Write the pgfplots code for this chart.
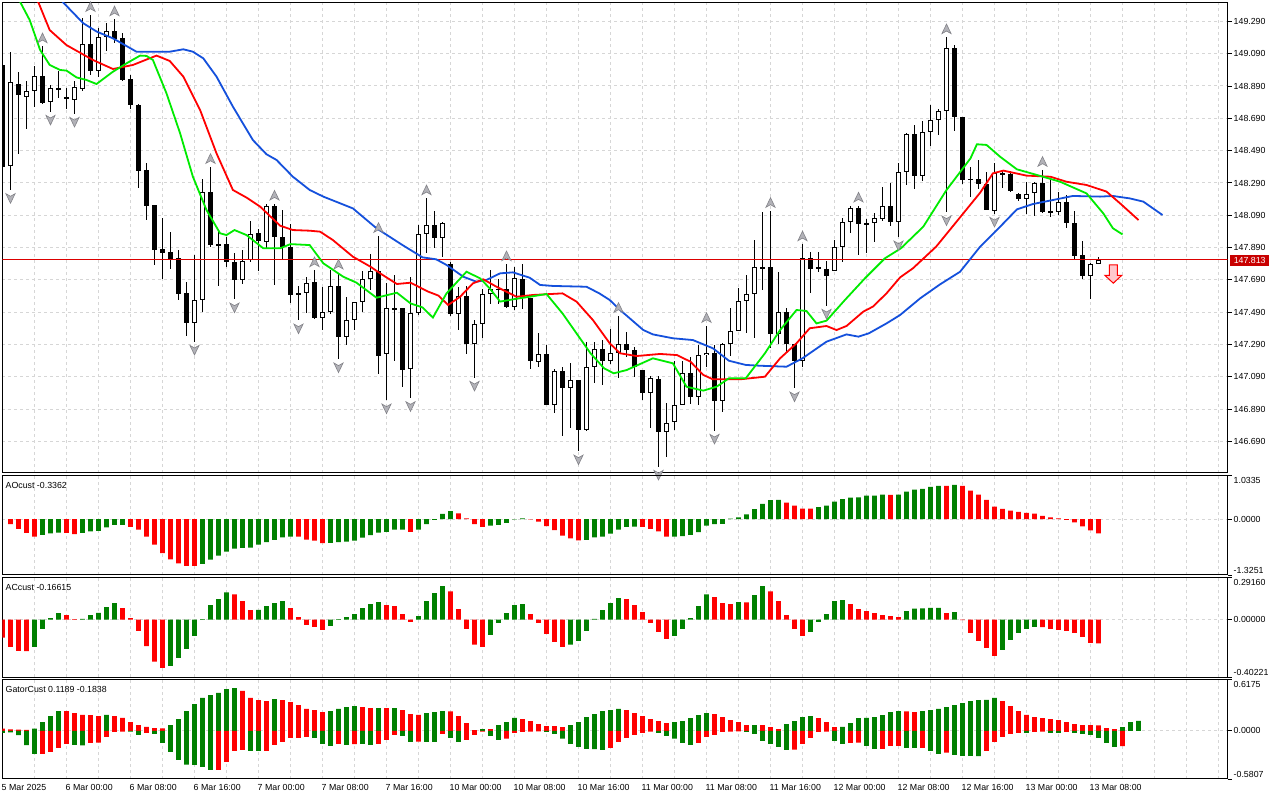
\documentclass[border=0pt]{standalone}
\usepackage{pgfplots}
\pgfplotsset{compat=1.18}
\usepackage{pgfplotstable}
\usepackage{fontspec}
\setmainfont{Liberation Sans}
\definecolor{mtblue}{RGB}{20,80,220}
\definecolor{mtred}{RGB}{255,0,0}
\definecolor{mtlime}{RGB}{0,235,0}
\definecolor{hgreen}{RGB}{0,128,0}
\definecolor{hred}{RGB}{255,0,0}
\definecolor{pricered}{RGB}{220,0,0}
\definecolor{boxred}{RGB}{200,0,0}
\definecolor{gridc}{RGB}{214,214,214}
\definecolor{fracfill}{RGB}{178,178,184}
\definecolor{fracdraw}{RGB}{130,130,136}
\definecolor{arrowfill}{RGB}{255,200,205}
\newcommand{\tfont}{\fontsize{8.8}{10}\selectfont}
\newcommand{\yl}[2]{\smash{\rule[-0.4pt]{4.5pt}{0.8pt}\hspace{1.3pt}\raisebox{#1}{#2}}}
\pgfdeclareplotmark{fup}{%
 \pgfpathmoveto{\pgfpoint{0pt}{5pt}}\pgfpathlineto{\pgfpoint{4.6pt}{-4.6pt}}%
 \pgfpathlineto{\pgfpoint{0pt}{-2pt}}\pgfpathlineto{\pgfpoint{-4.6pt}{-4.6pt}}%
 \pgfpathclose\pgfusepath{fill,stroke}}
\pgfdeclareplotmark{fdown}{%
 \pgfpathmoveto{\pgfpoint{0pt}{-5pt}}\pgfpathlineto{\pgfpoint{4.6pt}{4.6pt}}%
 \pgfpathlineto{\pgfpoint{0pt}{2pt}}\pgfpathlineto{\pgfpoint{-4.6pt}{4.6pt}}%
 \pgfpathclose\pgfusepath{fill,stroke}}
\pgfdeclareplotmark{sellarrow}{%
 \pgfpathmoveto{\pgfpoint{-4pt}{9.2pt}}\pgfpathlineto{\pgfpoint{4pt}{9.2pt}}%
 \pgfpathlineto{\pgfpoint{4pt}{-1.5pt}}\pgfpathlineto{\pgfpoint{8.3pt}{-1.5pt}}%
 \pgfpathlineto{\pgfpoint{0pt}{-9.2pt}}\pgfpathlineto{\pgfpoint{-8.3pt}{-1.5pt}}%
 \pgfpathlineto{\pgfpoint{-4pt}{-1.5pt}}\pgfpathclose\pgfusepath{fill,stroke}}
\pgfplotsset{
 mtpanel/.style={
  anchor=south west, scale only axis, width=1225.4pt,
  xmin=-0.025, xmax=153.15,
  xtick={0,8,...,152}, minor x tick num=1,
  major tick length=0pt, minor tick length=0pt,
  grid=both,
  major grid style={draw=gridc, dash pattern=on 3pt off 3pt, line width=1pt},
  minor grid style={draw=gridc, dash pattern=on 3pt off 3pt, line width=1pt},
  axis line style={black, line width=1pt},
  ytick pos=right, yticklabel pos=right,
  yticklabel style={anchor=west, inner sep=0pt, font=\tfont},
  clip mode=individual,
 },
 hbar/.style={ybar, bar width=4.6pt, bar shift=0pt, draw=none, fill=#1},
}
\pgfplotstableread{
i o h l c
0 149.018 149.030 148.380 148.386
1 148.394 149.098 148.246 148.912
2 148.900 148.976 148.471 148.832
3 148.820 148.923 148.626 148.859
4 148.859 149.014 148.762 148.950
5 148.950 149.135 148.776 148.787
6 148.791 148.896 148.731 148.875
7 148.875 148.985 148.818 148.869
8 148.822 148.877 148.749 148.807
9 148.803 148.923 148.718 148.881
10 148.873 149.308 148.857 149.150
11 149.150 149.329 148.958 148.985
12 148.985 149.251 148.943 149.191
13 149.191 149.280 149.108 149.228
14 149.228 149.302 149.154 149.183
15 149.187 149.216 148.923 148.927
16 148.933 148.956 148.745 148.774
17 148.772 148.778 148.260 148.366
18 148.370 148.413 148.062 148.149
19 148.153 148.153 147.784 147.877
20 147.881 148.071 147.697 147.858
21 147.860 147.986 147.759 147.821
22 147.825 147.877 147.565 147.604
23 147.608 147.676 147.344 147.420
24 147.420 147.843 147.307 147.563
25 147.563 148.314 147.489 148.231
26 148.233 148.388 147.895 147.905
27 147.909 147.984 147.649 147.905
28 147.909 147.957 147.771 147.798
29 147.800 147.854 147.569 147.687
30 147.687 147.874 147.662 147.804
31 147.815 148.054 147.800 147.971
32 147.980 148.006 147.742 147.932
33 147.922 148.157 147.879 148.145
34 148.145 148.161 147.656 147.953
35 147.953 148.120 147.817 147.895
36 147.895 148.035 147.548 147.594
37 147.594 147.652 147.439 147.606
38 147.606 147.707 147.482 147.668
39 147.676 147.749 147.447 147.451
40 147.451 147.647 147.379 147.489
41 147.489 147.751 147.480 147.652
42 147.652 147.734 147.198 147.334
43 147.334 147.585 147.284 147.439
44 147.439 147.553 147.379 147.553
45 147.553 147.744 147.493 147.693
46 147.693 147.848 147.627 147.742
47 147.744 147.961 147.109 147.220
48 147.229 147.670 146.944 147.513
49 147.509 147.720 147.189 147.513
50 147.513 147.513 147.024 147.129
51 147.136 147.707 146.958 147.482
52 147.482 148.027 147.472 147.971
53 147.971 148.194 147.854 148.027
54 148.027 148.116 147.885 147.951
55 147.951 148.048 147.833 148.040
56 147.790 147.798 147.466 147.476
57 147.476 147.647 147.379 147.590
58 147.590 147.652 147.229 147.290
59 147.290 147.441 147.084 147.414
60 147.414 147.631 147.328 147.602
61 147.602 147.751 147.540 147.635
62 147.635 147.697 147.540 147.631
63 147.635 147.786 147.513 147.519
64 147.519 147.771 147.503 147.701
65 147.693 147.786 147.509 147.579
66 147.579 147.579 147.138 147.185
67 147.179 147.363 147.148 147.229
68 147.229 147.284 146.913 146.917
69 146.917 147.140 146.863 147.127
70 147.127 147.150 146.721 147.018
71 147.018 147.175 146.775 147.070
72 147.070 147.070 146.628 146.762
73 146.762 147.307 146.756 147.148
74 147.148 147.307 147.049 147.262
75 147.262 147.319 147.039 147.185
76 147.185 147.385 147.169 147.235
77 147.235 147.466 147.080 147.290
78 147.290 147.365 147.214 147.253
79 147.253 147.276 147.086 147.150
80 147.131 147.131 146.946 146.987
81 146.987 147.094 146.775 147.080
82 147.076 147.094 146.533 146.746
83 146.746 146.925 146.591 146.801
84 146.808 147.185 146.760 146.913
85 146.917 147.185 146.917 147.111
86 147.111 147.212 146.921 146.967
87 146.967 147.284 146.917 147.222
88 147.222 147.404 147.152 147.235
89 147.235 147.284 146.756 146.937
90 146.937 147.301 146.874 147.290
91 147.290 147.513 147.220 147.371
92 147.371 147.639 147.371 147.557
93 147.557 147.717 147.359 147.602
94 147.602 147.936 147.328 147.767
95 147.763 148.110 147.627 147.767
96 147.767 148.116 147.268 147.352
97 147.352 147.736 147.290 147.489
98 147.489 147.513 147.245 147.290
99 147.290 147.290 147.018 147.189
100 147.189 147.909 147.152 147.823
101 147.823 147.860 147.610 147.755
102 147.755 147.860 147.736 147.767
103 147.755 147.808 147.530 147.711
104 147.742 147.936 147.742 147.891
105 147.891 148.071 147.802 148.046
106 148.046 148.149 147.978 148.132
107 148.132 148.149 147.841 148.034
108 148.040 148.064 147.854 148.034
109 148.040 148.101 147.922 148.071
110 148.064 148.262 148.054 148.145
111 148.145 148.287 148.020 148.046
112 148.046 148.411 147.953 148.355
113 148.355 148.597 148.275 148.590
114 148.590 148.646 148.254 148.335
115 148.335 148.675 148.304 148.603
116 148.603 148.772 148.518 148.677
117 148.677 148.747 148.588 148.733
118 148.733 149.191 148.108 149.123
119 149.123 149.143 148.613 148.696
120 148.696 148.696 148.285 148.310
121 148.316 148.390 148.205 148.310
122 148.316 148.430 148.252 148.281
123 148.281 148.355 148.120 148.120
124 148.118 148.411 148.099 148.349
125 148.349 148.364 148.260 148.343
126 148.345 148.364 148.231 148.240
127 148.219 148.229 148.176 148.192
128 148.192 148.293 148.095 148.219
129 148.225 148.297 148.087 148.289
130 148.289 148.370 148.101 148.108
131 148.108 148.318 148.077 148.114
132 148.108 148.231 148.093 148.170
133 148.170 148.217 148.013 148.040
134 148.040 148.116 147.815 147.839
135 147.841 147.930 147.693 147.715
136 147.715 147.792 147.569 147.786
137 147.786 147.831 147.786 147.813
}\candletab
\pgfplotstableread{
i v c
1 -0.121 0
2 -0.234 0
3 -0.329 0
4 -0.415 0
5 -0.372 1
6 -0.337 1
7 -0.320 1
8 -0.329 0
9 -0.355 0
10 -0.329 1
11 -0.294 1
12 -0.277 1
13 -0.199 1
14 -0.138 1
15 -0.135 1
16 -0.182 0
17 -0.251 0
18 -0.415 0
19 -0.606 0
20 -0.805 0
21 -0.952 0
22 -1.047 0
23 -1.107 0
24 -1.110 0
25 -1.064 1
26 -0.960 1
27 -0.865 1
28 -0.770 1
29 -0.701 1
30 -0.683 1
31 -0.675 1
32 -0.606 1
33 -0.545 1
34 -0.493 1
35 -0.433 1
36 -0.415 1
37 -0.418 0
38 -0.484 0
39 -0.510 0
40 -0.571 0
41 -0.562 1
42 -0.545 1
43 -0.536 1
44 -0.510 1
45 -0.441 1
46 -0.381 1
47 -0.320 1
48 -0.303 1
49 -0.251 1
50 -0.249 1
51 -0.303 0
52 -0.251 1
53 -0.121 1
54 -0.017 1
55 0.121 1
56 0.190 1
57 0.138 0
58 0.017 0
59 -0.121 0
60 -0.182 0
61 -0.156 1
62 -0.138 1
63 -0.087 1
64 -0.009 1
65 0.017 1
66 -0.009 0
67 -0.061 0
68 -0.164 0
69 -0.260 0
70 -0.389 0
71 -0.458 0
72 -0.502 0
73 -0.493 1
74 -0.433 1
75 -0.415 1
76 -0.346 1
77 -0.251 1
78 -0.182 1
79 -0.180 1
80 -0.184 0
81 -0.234 0
82 -0.294 0
83 -0.418 0
84 -0.415 1
85 -0.405 1
86 -0.372 1
87 -0.311 1
88 -0.156 1
89 -0.121 1
90 -0.112 1
91 0.009 1
92 0.043 1
93 0.112 1
94 0.234 1
95 0.363 1
96 0.450 1
97 0.455 1
98 0.389 0
99 0.320 0
100 0.251 0
101 0.248 0
102 0.285 1
103 0.320 1
104 0.415 1
105 0.476 1
106 0.510 1
107 0.514 1
108 0.554 1
109 0.557 1
110 0.580 1
111 0.577 0
112 0.580 1
113 0.649 1
114 0.701 1
115 0.718 1
116 0.761 1
117 0.787 1
118 0.785 0
119 0.813 1
120 0.787 0
121 0.675 0
122 0.580 0
123 0.458 0
124 0.294 0
125 0.242 0
126 0.199 0
127 0.173 0
128 0.147 0
129 0.130 0
130 0.078 0
131 0.043 0
132 0.017 0
133 -0.017 0
134 -0.078 0
135 -0.173 0
136 -0.270 0
137 -0.336 0
}\aotab
\pgfplotstableread{
i v c
0 -0.125 0
1 -0.190 0
2 -0.217 0
3 -0.219 0
4 -0.190 1
5 -0.065 1
6 0.010 1
7 0.044 1
8 0.030 0
9 0.003 0
10 0.005 1
11 0.030 1
12 0.046 1
13 0.086 1
14 0.113 1
15 0.079 0
16 0.010 0
17 -0.079 0
18 -0.185 0
19 -0.292 0
20 -0.336 0
21 -0.322 1
22 -0.266 1
23 -0.203 1
24 -0.113 1
25 0.002 1
26 0.100 1
27 0.141 1
28 0.189 1
29 0.175 0
30 0.127 0
31 0.065 0
32 0.067 1
33 0.093 1
34 0.113 1
35 0.127 1
36 0.079 0
37 0.017 0
38 -0.037 0
39 -0.051 0
40 -0.072 0
41 -0.044 1
42 0.002 1
43 0.017 1
44 0.037 1
45 0.079 1
46 0.107 1
47 0.120 1
48 0.100 0
49 0.093 0
50 0.037 0
51 -0.017 0
52 0.024 1
53 0.127 1
54 0.183 1
55 0.231 1
56 0.196 0
57 0.072 0
58 -0.065 0
59 -0.175 0
60 -0.190 0
61 -0.107 1
62 -0.024 1
63 0.044 1
64 0.100 1
65 0.107 1
66 0.037 0
67 -0.024 0
68 -0.100 0
69 -0.155 0
70 -0.190 0
71 -0.175 1
72 -0.148 1
73 -0.079 1
74 0.004 1
75 0.065 1
76 0.113 1
77 0.148 1
78 0.141 0
79 0.100 0
80 0.051 0
81 -0.024 0
82 -0.086 0
83 -0.134 0
84 -0.113 1
85 -0.065 1
86 0.010 1
87 0.093 1
88 0.175 1
89 0.155 0
90 0.113 0
91 0.107 0
92 0.121 1
93 0.119 0
94 0.169 1
95 0.231 1
96 0.196 0
97 0.127 0
98 0.030 0
99 -0.065 0
100 -0.113 0
101 -0.086 1
102 -0.017 1
103 0.037 1
104 0.127 1
105 0.134 1
106 0.107 0
107 0.072 0
108 0.058 0
109 0.044 0
110 0.030 0
111 0.024 0
112 0.017 0
113 0.058 1
114 0.076 1
115 0.078 1
116 0.080 1
117 0.081 1
118 0.044 0
119 0.051 1
120 -0.004 0
121 -0.093 0
122 -0.148 0
123 -0.196 0
124 -0.252 0
125 -0.210 1
126 -0.141 1
127 -0.093 1
128 -0.065 1
129 -0.051 1
130 -0.053 0
131 -0.065 0
132 -0.072 0
133 -0.079 0
134 -0.093 0
135 -0.120 0
136 -0.162 0
137 -0.166 0
}\actab
\pgfplotstableread{
i u uc d dc
0 0.027 0 -0.025 1
1 0.018 0 -0.018 1
2 0.014 0 -0.053 1
3 0.010 0 -0.173 1
4 0.025 1 -0.277 1
5 0.105 1 -0.277 0
6 0.177 1 -0.255 0
7 0.236 1 -0.205 0
8 0.236 0 -0.157 0
9 0.214 0 -0.169 1
10 0.191 0 -0.175 1
11 0.189 0 -0.145 0
12 0.177 0 -0.143 0
13 0.191 1 -0.073 0
14 0.177 0 -0.012 0
15 0.155 0 -0.009 0
16 0.105 0 -0.010 1
17 0.068 0 -0.048 1
18 0.048 0 -0.025 0
19 0.032 0 -0.036 1
20 0.030 0 -0.145 1
21 0.068 1 -0.255 1
22 0.141 1 -0.350 1
23 0.236 1 -0.409 1
24 0.322 1 -0.411 1
25 0.395 1 -0.435 1
26 0.430 1 -0.471 1
27 0.455 1 -0.470 0
28 0.503 1 -0.373 0
29 0.515 1 -0.241 0
30 0.479 0 -0.229 0
31 0.395 0 -0.241 1
32 0.370 0 -0.243 1
33 0.358 0 -0.241 0
34 0.382 1 -0.169 0
35 0.370 0 -0.133 0
36 0.345 0 -0.085 0
37 0.309 0 -0.084 0
38 0.264 0 -0.073 0
39 0.249 0 -0.085 1
40 0.225 0 -0.157 1
41 0.236 1 -0.182 1
42 0.264 1 -0.157 0
43 0.285 1 -0.169 1
44 0.297 1 -0.160 0
45 0.285 0 -0.157 1
46 0.273 0 -0.169 1
47 0.274 1 -0.157 0
48 0.272 0 -0.109 0
49 0.273 1 -0.048 0
50 0.249 0 -0.060 1
51 0.200 0 -0.133 1
52 0.191 0 -0.132 0
53 0.214 1 -0.133 1
54 0.225 1 -0.134 1
55 0.236 1 -0.036 0
56 0.235 0 -0.085 1
57 0.177 0 -0.133 1
58 0.091 0 -0.109 0
59 0.009 0 -0.048 0
60 0.020 1 -0.009 0
61 0.019 0 -0.060 1
62 0.068 1 -0.109 1
63 0.105 1 -0.096 0
64 0.155 1 -0.025 0
65 0.141 0 -0.012 0
66 0.116 0 -0.009 0
67 0.080 0 -0.007 0
68 0.056 0 -0.012 1
69 0.055 0 -0.036 1
70 0.045 0 -0.096 1
71 0.068 1 -0.157 1
72 0.105 1 -0.193 1
73 0.164 1 -0.218 1
74 0.200 1 -0.220 1
75 0.236 1 -0.229 1
76 0.249 1 -0.205 0
77 0.264 1 -0.133 0
78 0.249 0 -0.085 0
79 0.214 0 -0.048 0
80 0.177 0 -0.025 0
81 0.141 0 -0.009 0
82 0.116 0 -0.025 1
83 0.091 0 -0.060 1
84 0.105 1 -0.096 1
85 0.116 1 -0.145 1
86 0.153 1 -0.169 1
87 0.189 1 -0.145 0
88 0.214 1 -0.073 0
89 0.200 0 -0.048 0
90 0.164 0 -0.012 0
91 0.129 0 -0.009 0
92 0.105 0 -0.007 0
93 0.068 0 -0.012 1
94 0.069 1 -0.036 1
95 0.067 0 -0.121 1
96 0.045 0 -0.157 1
97 0.020 0 -0.193 1
98 0.080 1 -0.229 1
99 0.116 1 -0.228 0
100 0.164 1 -0.157 0
101 0.177 1 -0.085 0
102 0.153 0 -0.012 0
103 0.105 0 -0.011 0
104 0.045 0 -0.121 1
105 0.046 1 -0.157 1
106 0.091 1 -0.145 0
107 0.153 1 -0.144 0
108 0.154 1 -0.182 1
109 0.164 1 -0.218 1
110 0.189 1 -0.217 0
111 0.225 1 -0.182 0
112 0.236 1 -0.181 0
113 0.235 0 -0.205 1
114 0.225 0 -0.206 1
115 0.236 1 -0.205 0
116 0.249 1 -0.241 1
117 0.264 1 -0.277 1
118 0.285 1 -0.264 0
119 0.309 1 -0.291 1
120 0.334 1 -0.302 1
121 0.358 1 -0.303 1
122 0.370 1 -0.304 1
123 0.371 1 -0.241 0
124 0.395 1 -0.133 0
125 0.358 0 -0.073 0
126 0.297 0 -0.036 0
127 0.236 0 -0.025 0
128 0.191 0 -0.026 1
129 0.164 0 -0.012 0
130 0.153 0 -0.009 0
131 0.141 0 -0.025 1
132 0.129 0 -0.026 1
133 0.105 0 -0.012 0
134 0.080 0 -0.025 1
135 0.068 0 -0.036 1
136 0.067 0 -0.048 1
137 0.066 0 -0.085 1
138 0.032 0 -0.145 1
139 0.020 0 -0.193 1
140 0.045 1 -0.184 0
}\gatortab
\begin{document}
\begin{tikzpicture}
\path[use as bounding box, fill=white] (0pt,0pt) rectangle (1280pt,800pt);
% ---------------- main price panel
\begin{axis}[mtpanel, at={(2.3pt,327pt)}, height=470.7pt,
  ymin=146.494, ymax=149.408, xticklabels={},
  ytick={146.69,146.89,147.09,147.29,147.49,147.69,147.89,148.09,148.29,148.49,148.69,148.89,149.09,149.29},
  yticklabels={\yl{-3.15pt}{146.690},\yl{-3.15pt}{146.890},\yl{-3.15pt}{147.090},\yl{-3.15pt}{147.290},\yl{-3.15pt}{147.490},\yl{-3.15pt}{147.690},\yl{-3.15pt}{147.890},\yl{-3.15pt}{148.090},\yl{-3.15pt}{148.290},\yl{-3.15pt}{148.490},\yl{-3.15pt}{148.690},\yl{-3.15pt}{148.890},\yl{-3.15pt}{149.090},\yl{-3.15pt}{149.290}},
]
% wicks
\addplot[draw=none, mark=none, forget plot,
  error bars/.cd, y dir=both, y explicit, error mark=none,
  error bar style={draw=black, line width=1pt, solid}]
  table[x=i, y expr={0.5*(\thisrow{h}+\thisrow{l})}, y error expr={0.5*(\thisrow{h}-\thisrow{l})}] {\candletab};
% bodies (black outline / fill)
\addplot[draw=none, mark=none, forget plot,
  error bars/.cd, y dir=both, y explicit, error mark=none,
  error bar style={draw=black, line width=5pt, solid}]
  table[x=i, y expr={0.5*(\thisrow{o}+\thisrow{c})}, y error expr={max(0.5*abs(\thisrow{o}-\thisrow{c}),0.0031)}] {\candletab};
% white interior of bull candles
\addplot[draw=none, mark=none, forget plot,
  restrict expr to domain={\thisrow{c}-\thisrow{o}}{0.0125:10},
  error bars/.cd, y dir=both, y explicit, error mark=none,
  error bar style={draw=white, line width=3pt, solid}]
  table[x=i, y expr={0.5*(\thisrow{o}+\thisrow{c})}, y error expr={max(0.5*(\thisrow{c}-\thisrow{o})-0.0062,0)}] {\candletab};
% current price line
\addplot[pricered, line width=0.9pt] coordinates {(-0.025,147.813) (153.15,147.813)};
% Alligator: jaw (blue)
\addplot[mtblue, line width=1.8pt] coordinates {(6.5,149.474) (7.6,149.406) (10.1,149.278) (11.8,149.226) (13.8,149.185) (16.75,149.102) (20.9,149.102) (22.6,149.117) (23.8,149.102) (25.1,149.061) (26.75,148.948) (28.8,148.762) (31.3,148.555) (33,148.467) (34.25,148.432) (36.3,148.328) (38.4,148.246) (40.1,148.205) (43.8,148.132) (46.75,148.009) (50,147.905) (52.5,147.829) (54.2,147.817) (55.5,147.782) (57.6,147.709) (59.25,147.678) (60.5,147.689) (62.2,147.730) (63.8,147.736) (65.9,147.703) (67.2,147.658) (68.8,147.652) (73,147.647) (74.6,147.606) (75.9,147.565) (77.2,147.503) (80.1,147.379) (81.3,147.352) (83.8,147.328) (86.3,147.317) (88.8,147.266) (90.8,147.189) (92.9,147.163) (94.7,147.158) (98,147.152) (100,147.204) (103,147.307) (105.5,147.352) (107,147.338) (108.3,147.359) (110.5,147.420) (112.2,147.472) (114.7,147.575) (117.2,147.662) (119.7,147.740) (122.2,147.895) (124.3,147.998) (126.8,148.126) (128.8,148.159) (131.3,148.184) (133.8,148.209) (137.2,148.205) (138.8,148.209) (140.9,148.194) (142.6,148.174) (145,148.091)};
% teeth (red)
\addplot[mtred, line width=1.8pt] coordinates {(3.5,149.474) (4.5,149.406) (5.9,149.236) (8,149.143) (11.3,149.051) (13.8,148.995) (16.3,149.020) (19.25,149.078) (20.9,149.045) (22.6,148.948) (24.7,148.741) (26.75,148.473) (28.8,148.246) (30.5,148.199) (32.2,148.143) (34.7,148.025) (36.3,147.998) (38.4,147.994) (39.7,147.988) (41.3,147.936) (43.8,147.833) (46,147.771) (47.2,147.730) (49.3,147.664) (51,147.672) (53.2,147.617) (54.5,147.592) (55.7,147.534) (57.2,147.585) (58.8,147.668) (60.1,147.693) (61.75,147.647) (64.25,147.585) (66.3,147.596) (70,147.606) (71.75,147.555) (73.8,147.441) (75.9,147.297) (77.2,147.235) (79.25,147.218) (82.2,147.231) (84.3,147.224) (86,147.183) (87.6,147.101) (88.8,147.074) (92.2,147.074) (95.3,147.090) (97.2,147.204) (99.25,147.297) (100.9,147.390) (103,147.404) (104.25,147.379) (105.5,147.404) (107.6,147.493) (108.8,147.524) (110.5,147.606) (112.2,147.705) (113.8,147.761) (116.7,147.895) (119.7,148.077) (122.2,148.229) (123.8,148.349) (125.1,148.366) (128,148.335) (131,148.328) (133,148.297) (135.5,148.277) (138,148.236) (139.7,148.163) (142,148.060)};
% lips (lime)
\addplot[mtlime, line width=1.8pt] coordinates {(1.8,149.474) (2.25,149.406) (3.4,149.298) (4.7,149.113) (5.9,149.020) (7.2,148.989) (8,148.985) (9.25,148.943) (10.5,148.927) (11.75,148.902) (13.8,148.978) (15.5,149.030) (17.2,149.078) (18,149.076) (18.8,149.051) (20.5,148.844) (22.2,148.597) (23.8,148.328) (25.5,148.122) (27.2,147.978) (28,147.967) (29,147.998) (30.5,147.967) (32.6,147.885) (34.7,147.885) (36,147.911) (38.4,147.905) (40.1,147.792) (42.6,147.709) (44.25,147.672) (46.75,147.579) (49.3,147.610) (51,147.544) (52.5,147.519) (53.8,147.456) (55.5,147.606) (58,147.740) (59.7,147.699) (60.9,147.637) (62.2,147.555) (63.8,147.569) (65.9,147.585) (68,147.602) (70,147.482) (73.5,147.235) (75.2,147.142) (76.4,147.111) (78,147.131) (81.3,147.204) (83.8,147.173) (85.5,147.028) (87.6,147.004) (89.25,147.028) (90.8,147.080) (92.9,147.080) (95.3,147.235) (97.2,147.379) (99.25,147.503) (100.5,147.497) (101.75,147.420) (103,147.437) (105.3,147.565) (107.8,147.699) (110.3,147.823) (112.3,147.885) (115.1,148.019) (118,148.246) (121,148.442) (121.8,148.529) (123,148.525) (124.7,148.452) (126.8,148.374) (129.3,148.339) (132.2,148.297) (135.5,148.225) (137.6,148.101) (138.8,148.009) (140,147.971)};
% fractals
\addplot[only marks, mark=fup, mark options={yshift=8.3pt, fill=fracfill, draw=fracdraw, line width=0.6pt}] coordinates {(5,149.135) (11,149.329) (14,149.302) (26,148.388) (34,148.161) (39,147.749) (42,147.734) (47,147.961) (53,148.194) (63,147.786) (77,147.466) (88,147.404) (96,148.116) (100,147.909) (107,148.149) (118,149.191) (130,148.370)};
\addplot[only marks, mark=fdown, mark options={yshift=-8.3pt, fill=fracfill, draw=fracdraw, line width=0.6pt}] coordinates {(1,148.246) (6,148.731) (9,148.718) (24,147.307) (29,147.569) (37,147.439) (42,147.198) (48,146.944) (51,146.958) (59,147.084) (72,146.628) (82,146.533) (89,146.756) (99,147.018) (103,147.530) (112,147.953) (118,148.108) (124,148.099)};
% sell signal arrow
\addplot[only marks, mark=sellarrow, mark options={fill=arrowfill, draw=mtred, line width=1pt}] coordinates {(138.85,147.726)};
\end{axis}
% ---------------- AO panel
\begin{axis}[mtpanel, at={(2.3pt,225pt)}, height=99.5pt,
  ymin=-1.3251, ymax=1.0335, xticklabels={},
  ytick={-1.3251,0,1.0335},
  yticklabels={\yl{1.85pt}{-1.3251},\yl{-3.15pt}{0.0000},\yl{-8.35pt}{1.0335}},
]
\addplot[hbar=hgreen, restrict expr to domain={\thisrow{c}}{0.5:1.5}] table[x=i, y=v] {\aotab};
\addplot[hbar=hred, restrict expr to domain={\thisrow{c}}{-0.5:0.5}] table[x=i, y=v] {\aotab};
\end{axis}
% ---------------- AC panel
\begin{axis}[mtpanel, at={(2.3pt,122.5pt)}, height=100pt,
  ymin=-0.40221, ymax=0.2916, xticklabels={},
  ytick={-0.40221,0,0.2916},
  yticklabels={\yl{1.85pt}{-0.40221},\yl{-3.15pt}{0.00000},\yl{-8.35pt}{0.29160}},
]
\addplot[hbar=hgreen, restrict expr to domain={\thisrow{c}}{0.5:1.5}] table[x=i, y=v] {\actab};
\addplot[hbar=hred, restrict expr to domain={\thisrow{c}}{-0.5:0.5}] table[x=i, y=v] {\actab};
\end{axis}
% ---------------- Gator panel
\begin{axis}[mtpanel, at={(2.3pt,21pt)}, height=99.5pt,
  ymin=-0.5807, ymax=0.6175,
  ytick={-0.5807,0,0.6175},
  yticklabels={\yl{1.85pt}{-0.5807},\yl{-3.15pt}{0.0000},\yl{-8.35pt}{0.6175}},
  xticklabels={5 Mar 2025,6 Mar 00:00,6 Mar 08:00,6 Mar 16:00,7 Mar 00:00,7 Mar 08:00,7 Mar 16:00,10 Mar 00:00,10 Mar 08:00,10 Mar 16:00,11 Mar 00:00,11 Mar 08:00,11 Mar 16:00,12 Mar 00:00,12 Mar 08:00,12 Mar 16:00,13 Mar 00:00,13 Mar 08:00,{},{}},
  xticklabel style={anchor=north west, inner sep=0pt, xshift=-1pt, yshift=-4.85pt, font=\tfont},
]
\addplot[hbar=hgreen, restrict expr to domain={\thisrow{uc}}{0.5:1.5}] table[x=i, y=u] {\gatortab};
\addplot[hbar=hred, restrict expr to domain={\thisrow{uc}}{-0.5:0.5}] table[x=i, y=u] {\gatortab};
\addplot[hbar=hgreen, restrict expr to domain={\thisrow{dc}}{0.5:1.5}] table[x=i, y=d] {\gatortab};
\addplot[hbar=hred, restrict expr to domain={\thisrow{dc}}{-0.5:0.5}] table[x=i, y=d] {\gatortab};
\addplot[hbar=hgreen] coordinates {(141,0.105) (142,0.119)};
\end{axis}
% ---------------- texts
\node[anchor=west, inner sep=0pt, font=\tfont] at (5.5pt,315pt) {AOcust -0.3362};
\node[anchor=west, inner sep=0pt, font=\tfont] at (5.5pt,213pt) {ACcust -0.16615};
\node[anchor=west, inner sep=0pt, font=\tfont] at (5.5pt,111pt) {GatorCust 0.1189 -0.1838};
\node[anchor=west, fill=boxred, text=white, font=\tfont, inner xsep=3.6pt, inner ysep=0pt, minimum height=10.5pt] at (1230pt,539.7pt) {147.813};
\end{tikzpicture}
\end{document}
